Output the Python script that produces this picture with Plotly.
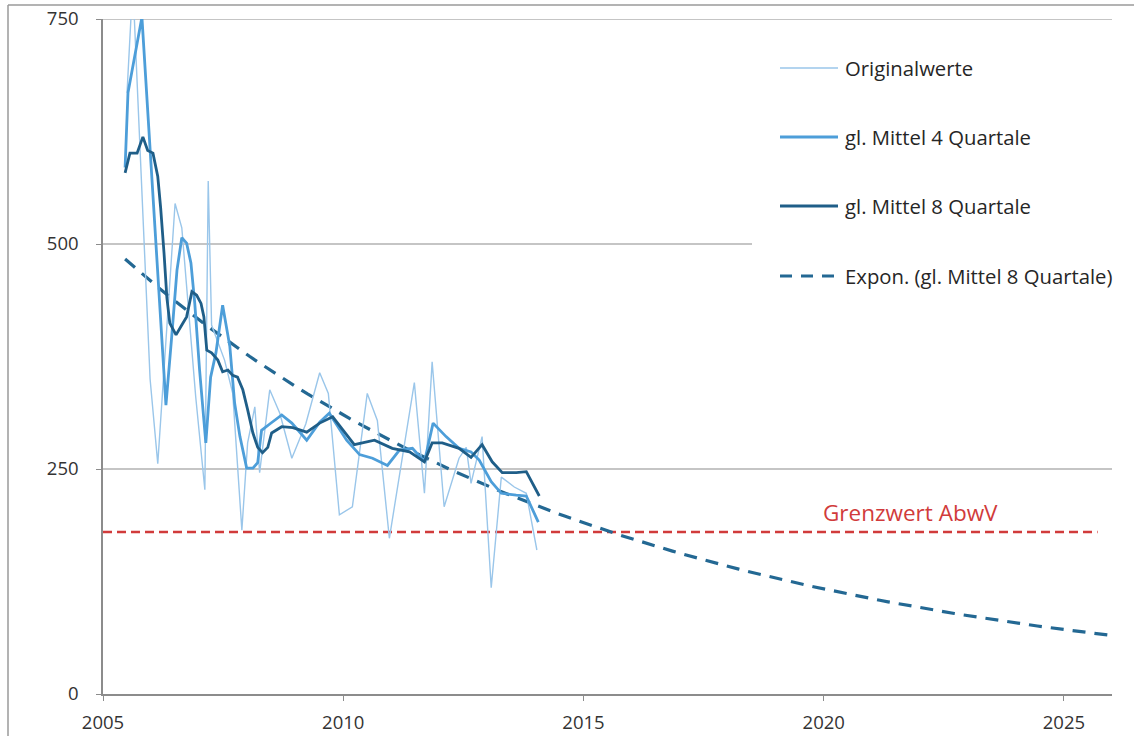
import numpy as np
import plotly.graph_objects as go

# --- measured values (decimal year, value) ---
orig_t = [2005.50, 2005.62, 2005.98, 2006.14, 2006.50, 2006.64, 2006.93, 2007.12, 2007.19,
          2007.26, 2007.53, 2007.70, 2007.89, 2008.01, 2008.16, 2008.26, 2008.47, 2008.68,
          2008.93, 2009.22, 2009.51, 2009.69, 2009.92, 2010.19, 2010.50, 2010.71, 2010.96,
          2011.48, 2011.69, 2011.85, 2012.10, 2012.41, 2012.56, 2012.66, 2012.89, 2013.08,
          2013.29, 2013.56, 2013.81, 2014.03]
orig_v = [668, 790, 350, 256, 545, 518, 330, 227, 570,
          410, 371, 334, 182, 279, 319, 246, 338, 312,
          262, 300, 357, 334, 199, 208, 334, 304, 173,
          346, 223, 369, 208, 262, 274, 234, 286, 118,
          241, 230, 223, 160]

m4_t = [2005.46, 2005.52, 2005.81, 2006.31, 2006.43, 2006.54, 2006.64, 2006.74, 2006.83,
        2006.91, 2007.01, 2007.14, 2007.24, 2007.35, 2007.49, 2007.58, 2007.64, 2007.74,
        2007.85, 2007.99, 2008.12, 2008.22, 2008.30, 2008.47, 2008.72, 2008.93, 2009.24,
        2009.51, 2009.71, 2010.07, 2010.34, 2010.61, 2010.92, 2011.17, 2011.44, 2011.69,
        2011.87, 2012.14, 2012.41, 2012.66, 2012.83, 2013.08, 2013.29, 2013.60, 2013.81,
        2014.06]
m4_v = [585, 668, 752, 321, 397, 471, 507, 501, 479,
        434, 360, 279, 352, 379, 432, 404, 386, 323,
        286, 251, 251, 257, 293, 300, 310, 301, 282,
        302, 312, 282, 266, 262, 254, 271, 273, 258,
        301, 286, 273, 269, 260, 236, 223, 221, 220,
        191]

m8_t = [2005.46, 2005.56, 2005.71, 2005.83, 2005.93, 2006.04, 2006.14, 2006.20, 2006.27,
        2006.33, 2006.39, 2006.52, 2006.64, 2006.74, 2006.85, 2006.95, 2007.04, 2007.10,
        2007.16, 2007.26, 2007.39, 2007.49, 2007.60, 2007.70, 2007.80, 2007.91, 2008.01,
        2008.12, 2008.22, 2008.32, 2008.43, 2008.51, 2008.72, 2008.95, 2009.24, 2009.51,
        2009.78, 2009.99, 2010.23, 2010.65, 2011.02, 2011.38, 2011.69, 2011.85, 2012.06,
        2012.41, 2012.66, 2012.89, 2013.10, 2013.31, 2013.60, 2013.81, 2014.08]
m8_v = [579, 601, 601, 619, 604, 601, 575, 540, 490,
        440, 412, 399, 410, 419, 447, 443, 434, 419,
        382, 379, 371, 358, 360, 354, 352, 338, 316,
        290, 274, 268, 274, 290, 297, 296, 291, 301,
        308, 293, 277, 282, 273, 269, 258, 279, 279,
        273, 263, 277, 258, 246, 246, 247, 220]

limit_value = 180
limit_label = "Grenzwert AbwV"

series_names = ["Originalwerte", "gl. Mittel 4 Quartale", "gl. Mittel 8 Quartale",
                "Expon. (gl. Mittel 8 Quartale)"]
x_ticks = [2005, 2010, 2015, 2020, 2025]
y_ticks = [0, 250, 500, 750]

# --- colours ---
c_orig = "#9AC6EA"
c_m4 = "#4D9ED9"
c_m8 = "#1F5E88"
c_trend = "#236893"
c_limit = "#D13B3B"
c_grid = "#8C8C8C"

# --- exponential trend fitted to the 8-quarter mean points (log-linear least squares) ---
slope, intercept = np.polyfit(np.array(m8_t), np.log(np.array(m8_v, dtype=float)), 1)
trend_t = np.linspace(m8_t[0], 2026.0, 120)
trend_v = np.exp(intercept + slope * trend_t)

fig = go.Figure()

fig.add_trace(go.Scatter(x=[2005.0, 2025.7], y=[limit_value, limit_value], mode="lines",
                         line=dict(color=c_limit, width=2.6, dash="9px,5px"),
                         showlegend=False, hoverinfo="skip"))
fig.add_trace(go.Scatter(x=trend_t, y=trend_v, mode="lines", name=series_names[3],
                         line=dict(color=c_trend, width=3.2, dash="13px,9px"),
                         showlegend=False))
fig.add_trace(go.Scatter(x=orig_t, y=orig_v, mode="lines", name=series_names[0],
                         line=dict(color=c_orig, width=1.4), showlegend=False))
fig.add_trace(go.Scatter(x=m4_t, y=m4_v, mode="lines", name=series_names[1],
                         line=dict(color=c_m4, width=2.8), showlegend=False))
fig.add_trace(go.Scatter(x=m8_t, y=m8_v, mode="lines", name=series_names[2],
                         line=dict(color=c_m8, width=2.8), showlegend=False))

W, H = 1134, 736
ml, mr, mt, mb = 103, 22, 19, 42
pw, ph = W - ml - mr, H - mt - mb


def px_x(p):
    return (p - ml) / pw


def px_y(p):
    return (H - mb - p) / ph


shapes = []
# horizontal grid lines (the 500 line stops where the legend panel begins)
for v, x_end in [(250, 1.0), (500, px_x(752)), (750, 1.0)]:
    shapes.append(dict(type="line", xref="paper", yref="y", x0=0, x1=x_end, y0=v, y1=v,
                       line=dict(color=c_grid, width=1.2), layer="below"))
# outer frame of the chart object
shapes.append(dict(type="line", xref="paper", yref="paper", x0=px_x(8), x1=px_x(1140),
                   y0=px_y(5), y1=px_y(5), line=dict(color="#9A9A9A", width=1.5)))
shapes.append(dict(type="line", xref="paper", yref="paper", x0=px_x(8), x1=px_x(8),
                   y0=px_y(5), y1=px_y(740), line=dict(color="#9A9A9A", width=1.5)))

# legend samples
leg_y = [68, 137, 206, 276]
leg_styles = [dict(color=c_orig, width=1.4), dict(color=c_m4, width=3),
              dict(color=c_m8, width=3), dict(color=c_trend, width=3.2, dash="12px,9px")]
annotations = []
for yy, st, name in zip(leg_y, leg_styles, series_names):
    shapes.append(dict(type="line", xref="paper", yref="paper", x0=px_x(780), x1=px_x(838),
                       y0=px_y(yy), y1=px_y(yy), line=st))
    annotations.append(dict(xref="paper", yref="paper", x=px_x(843), y=px_y(yy), text=name,
                            showarrow=False, xanchor="left", yanchor="middle",
                            font=dict(size=20.3, color="#262626")))

annotations.append(dict(xref="x", yref="y", x=2021.8, y=202, text=limit_label, showarrow=False,
                        xanchor="center", yanchor="middle",
                        font=dict(size=22.5, color=c_limit)))

fig.update_layout(
    width=W, height=H,
    margin=dict(l=ml, r=mr, t=mt, b=mb, pad=0, autoexpand=False),
    paper_bgcolor="white", plot_bgcolor="white",
    font=dict(family="Open Sans, DejaVu Sans, sans-serif", size=18, color="#333333"),
    shapes=shapes, annotations=annotations,
    xaxis=dict(range=[2005, 2026], tickvals=x_ticks, showgrid=False, zeroline=False,
               showline=True, linecolor=c_grid, linewidth=2, ticks="outside", ticklen=5,
               tickcolor=c_grid, tickfont=dict(size=18.5, color="#333333"),
               ticklabelstandoff=6, automargin=False),
    yaxis=dict(range=[0, 750], tickvals=y_ticks, showgrid=False, zeroline=False,
               showline=True, linecolor=c_grid, linewidth=1.5, ticks="outside", ticklen=5,
               tickcolor=c_grid, tickfont=dict(size=18.5, color="#333333"),
               ticklabelstandoff=14, automargin=False),
)

fig.write_html("out.html")
